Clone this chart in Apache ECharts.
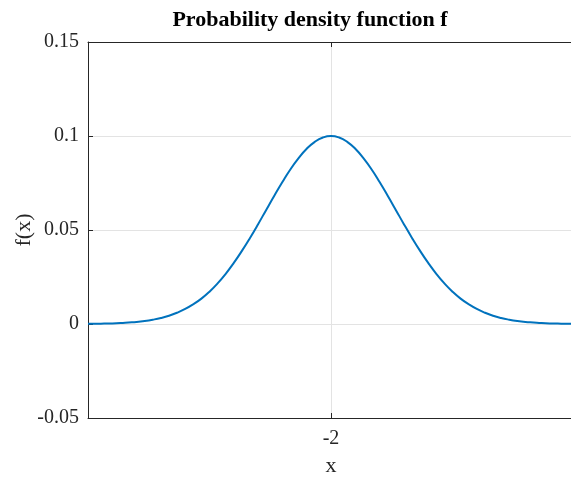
<!DOCTYPE html>
<html>
<head>
<meta charset="utf-8">
<script src="https://cdn.jsdelivr.net/npm/echarts@6/dist/echarts.min.js"></script>
<style>
  html, body { margin: 0; padding: 0; background: #fff; }
  #main { width: 571px; height: 478px; }
</style>
</head>
<body>
<div id="main"></div>
<script>
// values (x step 0.5)
var xValues = [-17, -16.5, -16, -15.5, -15, -14.5, -14, -13.5, -13, -12.5, -12, -11.5, -11, -10.5, -10, -9.5, -9, -8.5, -8, -7.5, -7, -6.5, -6, -5.5, -5, -4.5, -4, -3.5, -3, -2.5,
  -2, -1.5, -1, -0.5, 0, 0.5, 1, 1.5, 2, 2.5, 3, 3.5, 4, 4.5, 5, 5.5, 6, 6.5, 7, 7.5, 8, 8.5, 9, 9.5, 10, 10.5, 11, 11.5, 12, 12.5, 13];
var fValues = [0.0001, 0.0001, 0.0002, 0.0003, 0.0005, 0.0008, 0.0011, 0.0016, 0.0023, 0.0032, 0.0044, 0.0060, 0.0080, 0.0105, 0.0135, 0.0172, 0.0216, 0.0267, 0.0325, 0.0389, 0.0458, 0.0531, 0.0607, 0.0682, 0.0755, 0.0823, 0.0882, 0.0932, 0.0969, 0.0992,
  0.1000, 0.0992, 0.0969, 0.0932, 0.0882, 0.0823, 0.0755, 0.0682, 0.0607, 0.0531, 0.0458, 0.0389, 0.0325, 0.0267, 0.0216, 0.0172, 0.0135, 0.0105, 0.0080, 0.0060, 0.0044, 0.0032, 0.0023, 0.0016, 0.0011, 0.0008, 0.0005, 0.0003, 0.0002, 0.0001, 0.0001];
var xTicks = [-2];
var yTicks = [-0.05, 0, 0.05, 0.1, 0.15];

var points = [];
for (var i = 0; i < xValues.length; i++) {
    points.push([xValues[i], fValues[i]]);
}

var font = 'Liberation Serif';
var ink = '#262626';

var myChart = echarts.init(document.getElementById('main'));
var option = {
    animation: false,
    title: {
        text: 'Probability density function f',
        left: 305,
        top: 4,
        textAlign: 'center',
        textStyle: { fontFamily: font, fontWeight: 'bold', fontSize: 22, color: '#000' }
    },
    // plot box runs a few px past the right edge of the window, as in the picture
    grid: { left: 88, top: 42, height: 376, width: 486, containLabel: false, outerBoundsMode: 'none' },
    xAxis: [{
        type: 'value',
        min: -17,
        max: 13,
        name: 'x',
        nameLocation: 'middle',
        nameGap: 37,
        nameTextStyle: { fontFamily: font, fontSize: 22, color: ink },
        axisLine: { show: true, onZero: false, lineStyle: { color: ink, width: 1 } },
        axisTick: { show: true, inside: true, length: 5, customValues: xTicks, lineStyle: { color: ink } },
        axisLabel: { customValues: xTicks, fontFamily: font, fontSize: 20, color: ink, margin: 11 },
        splitLine: { show: true, lineStyle: { color: '#e3e3e3', width: 1 } }
    }, {
        type: 'value',
        position: 'top',
        min: -17,
        max: 13,
        axisLine: { show: true, onZero: false, lineStyle: { color: ink, width: 1 } },
        axisTick: { show: true, inside: true, length: 5, customValues: xTicks, lineStyle: { color: ink } },
        axisLabel: { show: false },
        splitLine: { show: false }
    }],
    yAxis: {
        type: 'value',
        min: yTicks[0],
        max: yTicks[yTicks.length - 1],
        interval: 0.05,
        name: 'f(x)',
        nameLocation: 'middle',
        nameGap: 53,
        nameMoveOverlap: false,
        nameTextStyle: { fontFamily: font, fontSize: 22, color: ink },
        axisLine: { show: true, onZero: false, lineStyle: { color: ink, width: 1 } },
        axisTick: { show: true, inside: true, length: 5, lineStyle: { color: ink } },
        axisLabel: {
            fontFamily: font, fontSize: 20, color: ink, margin: 9,
            padding: [4, 0, 0, 0],
            formatter: function (v) { return String(+v.toFixed(2)); }
        },
        splitLine: { show: true, lineStyle: { color: '#e3e3e3', width: 1 } }
    },
    series: [{
        type: 'line',
        data: points,
        smooth: true,
        showSymbol: false,
        lineStyle: { color: '#0072BD', width: 2 }
    }]
};
myChart.setOption(option);
</script>
</body>
</html>
